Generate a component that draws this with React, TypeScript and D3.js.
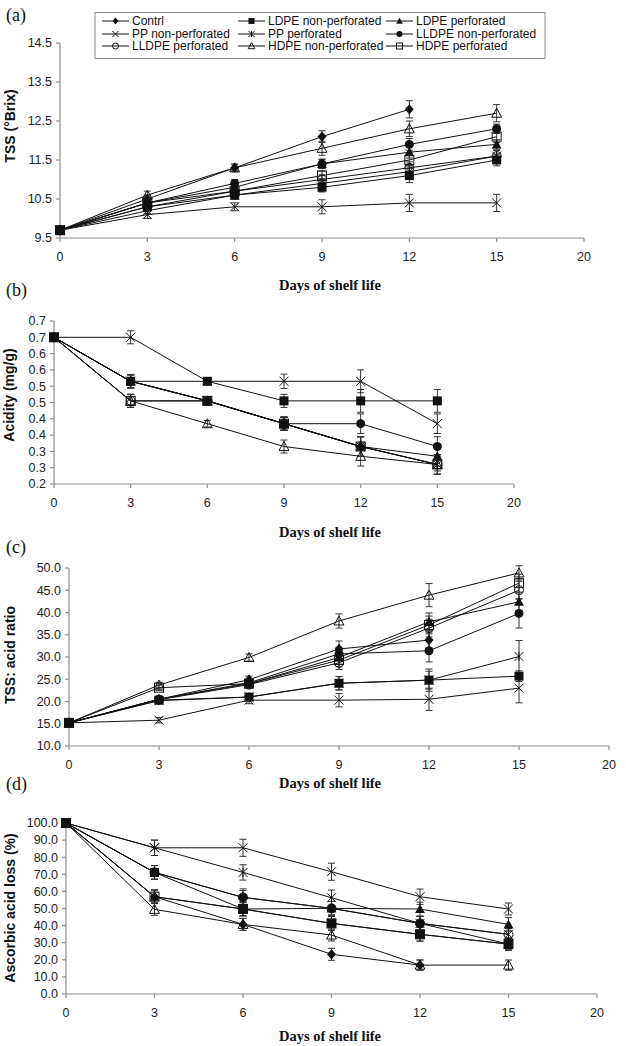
import React from "react";
import * as d3 from "d3";

type V = number | null;

const days = ["0", "3", "6", "9", "12", "15", "20"];
const seriesNames = [
  "Contrl", "LDPE non-perforated", "LDPE perforated",
  "PP non-perforated", "PP perforated", "LLDPE non-perforated",
  "LLDPE perforated", "HDPE non-perforated", "HDPE perforated",
];
const seriesMarkers = [
  "diamond", "squareFilled", "triangleFilled",
  "cross", "star", "circleFilled",
  "circleOpen", "triangleOpen", "squareOpen",
];

// (a) TSS (°Brix)
const tssValues: V[][] = [
  [9.7, 10.5, 11.3, 12.1, 12.8, null],
  [9.7, 10.3, 10.6, 10.8, 11.1, 11.5],
  [9.7, 10.4, 10.8, 11.4, 11.7, 11.9],
  [9.7, 10.1, 10.3, 10.3, 10.4, 10.4],
  [9.7, 10.2, 10.6, 10.9, 11.2, 11.6],
  [9.7, 10.4, 10.9, 11.4, 11.9, 12.3],
  [9.7, 10.3, 10.7, 11.0, 11.3, 11.6],
  [9.7, 10.6, 11.3, 11.8, 12.3, 12.7],
  [9.7, 10.4, 10.7, 11.1, 11.5, 12.1],
];
const tssErrors: number[][] = [
  [0, 0.1, 0.08, 0.15, 0.22, 0],
  [0, 0.08, 0.1, 0.12, 0.18, 0.15],
  [0, 0.08, 0.15, 0.12, 0.15, 0.12],
  [0, 0.1, 0.1, 0.18, 0.22, 0.22],
  [0, 0.08, 0.1, 0.12, 0.15, 0.15],
  [0, 0.08, 0.1, 0.12, 0.15, 0.12],
  [0, 0.08, 0.1, 0.12, 0.15, 0.15],
  [0, 0.1, 0.1, 0.18, 0.2, 0.22],
  [0, 0.08, 0.1, 0.12, 0.15, 0.15],
];
const tssTicks = [9.5, 10.5, 11.5, 12.5, 13.5, 14.5];
const tssTickLabels = ["9.5", "10.5", "11.5", "12.5", "13.5", "14.5"];

// (b) Acidity (mg/g)
const acidValues: V[][] = [
  [0.65, 0.515, 0.455, 0.385, 0.315, null],
  [0.65, 0.515, 0.515, 0.455, 0.455, 0.455],
  [0.65, 0.515, 0.455, 0.385, 0.315, 0.285],
  [0.65, 0.65, 0.515, 0.515, 0.515, 0.385],
  [0.65, 0.515, 0.455, 0.385, 0.315, 0.26],
  [0.65, 0.515, 0.455, 0.385, 0.385, 0.315],
  [0.65, 0.455, 0.455, 0.385, 0.315, 0.26],
  [0.65, 0.455, 0.385, 0.315, 0.285, 0.26],
  [0.65, 0.455, 0.455, 0.385, 0.315, 0.26],
];
const acidErrors: number[][] = [
  [0, 0.02, 0.01, 0.02, 0.03, 0],
  [0, 0.02, 0.01, 0.02, 0.035, 0.035],
  [0, 0.02, 0.01, 0.02, 0.03, 0.03],
  [0, 0.02, 0.01, 0.022, 0.035, 0.03],
  [0, 0.02, 0.01, 0.02, 0.03, 0.03],
  [0, 0.02, 0.01, 0.02, 0.03, 0.03],
  [0, 0.02, 0.01, 0.02, 0.03, 0.03],
  [0, 0.02, 0.01, 0.02, 0.03, 0.02],
  [0, 0.02, 0.01, 0.02, 0.03, 0.03],
];
const acidTicks = [0.2, 0.25, 0.3, 0.35, 0.4, 0.45, 0.5, 0.55, 0.6, 0.65, 0.7];
const acidTickLabels = ["0.2", "0.3", "0.3", "0.4", "0.4", "0.5", "0.5", "0.6", "0.6", "0.7", "0.7"];

// (c) TSS: acid ratio
const ratioValues: V[][] = [
  [15.2, 20.5, 24.9, 31.8, 33.8, null],
  [15.2, 20.3, 21.0, 24.1, 24.8, 25.7],
  [15.2, 20.5, 24.0, 29.9, 37.9, 42.4],
  [15.2, 15.8, 20.3, 20.3, 20.5, 23.0],
  [15.2, 20.2, 21.0, 24.1, 24.8, 30.1],
  [15.2, 20.5, 24.2, 30.7, 31.4, 39.8],
  [15.2, 20.4, 23.8, 28.7, 36.5, 45.0],
  [15.2, 23.7, 29.9, 38.1, 43.9, 48.9],
  [15.2, 23.1, 24.0, 29.3, 37.2, 46.6],
];
const ratioErrors: number[][] = [
  [0, 0.6, 0.8, 1.8, 1.8, 0],
  [0, 0.5, 0.6, 1.5, 2.5, 1.2],
  [0, 0.5, 0.8, 1.5, 2.0, 2.0],
  [0, 0.6, 0.8, 1.5, 2.5, 3.3],
  [0, 0.5, 0.6, 1.5, 2.0, 3.6],
  [0, 0.5, 0.8, 1.5, 2.5, 3.3],
  [0, 0.5, 0.8, 1.5, 2.0, 2.0],
  [0, 0.6, 0.8, 1.6, 2.6, 1.6],
  [0, 0.6, 0.8, 1.5, 2.0, 2.0],
];
const ratioTicks = [10, 15, 20, 25, 30, 35, 40, 45, 50];
const ratioTickLabels = ["10.0", "15.0", "20.0", "25.0", "30.0", "35.0", "40.0", "45.0", "50.0"];

// (d) Ascorbic acid loss (%)
const ascValues: V[][] = [
  [100, 56.9, 40.7, 23.2, 16.9, null],
  [100, 71.1, 49.7, 41.3, 34.9, 29.2],
  [100, 56.9, 49.7, 50.1, 49.7, 40.7],
  [100, 85.5, 85.5, 71.5, 56.9, 49.7],
  [100, 85.5, 71.1, 56.3, 41.3, 34.9],
  [100, 71.1, 56.5, 50.1, 41.3, 29.2],
  [100, 71.1, 56.5, 50.1, 41.3, 34.9],
  [100, 49.5, 40.7, 34.5, 16.9, 16.9],
  [100, 56.9, 49.7, 41.3, 34.9, 29.2],
];
const ascErrors: number[][] = [
  [0, 3.5, 3.5, 3.5, 3, 0],
  [0, 4, 4, 4, 4, 3.5],
  [0, 4, 4, 4, 4, 4],
  [0, 4.5, 5, 5, 4.5, 3.5],
  [0, 4.5, 4.5, 4.5, 4, 3.5],
  [0, 4, 5, 4, 4, 3.5],
  [0, 4, 4, 4, 4, 3.5],
  [0, 3.5, 3.5, 3.5, 3, 3],
  [0, 4, 4, 4, 4, 3.5],
];
const ascTicks = [0, 10, 20, 30, 40, 50, 60, 70, 80, 90, 100];
const ascTickLabels = ["0.0", "10.0", "20.0", "30.0", "40.0", "50.0", "60.0", "70.0", "80.0", "90.0", "100.0"];

const SANS = "'Liberation Sans', Arial, Helvetica, sans-serif";
const SERIF = "'Liberation Serif', 'Times New Roman', serif";
const AXIS = "#8c8c8c";
const INK = "#111";

function Marker({ type, x, y, s }: { type: string; x: number; y: number; s: number }) {
  const sw = 1;
  switch (type) {
    case "diamond":
      return <path d={`M${x},${y - s * 1.15}L${x + s},${y}L${x},${y + s * 1.15}L${x - s},${y}Z`} fill={INK} />;
    case "squareFilled":
      return <rect x={x - s} y={y - s} width={2 * s} height={2 * s} fill={INK} />;
    case "squareOpen":
      return <rect x={x - s} y={y - s} width={2 * s} height={2 * s} fill="none" stroke={INK} strokeWidth={sw} />;
    case "triangleFilled":
      return <path d={`M${x},${y - s * 1.1}L${x + s * 1.1},${y + s * 0.9}L${x - s * 1.1},${y + s * 0.9}Z`} fill={INK} />;
    case "triangleOpen":
      return <path d={`M${x},${y - s * 1.1}L${x + s * 1.1},${y + s * 0.9}L${x - s * 1.1},${y + s * 0.9}Z`} fill="none" stroke={INK} strokeWidth={sw} />;
    case "circleFilled":
      return <circle cx={x} cy={y} r={s} fill={INK} />;
    case "circleOpen":
      return <circle cx={x} cy={y} r={s} fill="none" stroke={INK} strokeWidth={sw} />;
    case "cross":
      return <path d={`M${x - s},${y - s}L${x + s},${y + s}M${x - s},${y + s}L${x + s},${y - s}`} stroke={INK} strokeWidth={sw} fill="none" />;
    case "star":
      return <path d={`M${x - s},${y - s}L${x + s},${y + s}M${x - s},${y + s}L${x + s},${y - s}M${x},${y - s}L${x},${y + s}`} stroke={INK} strokeWidth={sw} fill="none" />;
    default:
      return null;
  }
}

type PanelProps = {
  tag: string;
  tagY: number;
  x0: number;
  x1: number;
  yBottom: number;
  yTop: number;
  domain: [number, number];
  ticks: number[];
  tickLabels: string[];
  values: V[][];
  errors: number[][];
  yTitle: string;
  yTitleX: number;
  yTitleY: number;
  xTitleY: number;
};

function Panel(p: PanelProps) {
  const x = d3.scalePoint<string>().domain(days).range([p.x0, p.x1]);
  const y = d3.scaleLinear().domain(p.domain).range([p.yBottom, p.yTop]);
  const line = d3
    .line<{ d: string; v: V }>()
    .defined((d) => d.v !== null)
    .x((d) => x(d.d)!)
    .y((d) => y(d.v as number));

  return (
    <g>
      <text x={6} y={p.tagY} fontFamily={SERIF} fontSize={18} fill="#111">{p.tag}</text>
      {/* axes */}
      <line x1={p.x0} x2={p.x0} y1={y(p.domain[1])} y2={p.yBottom} stroke={AXIS} strokeWidth={1.2} />
      <line x1={p.x0} x2={p.x1} y1={p.yBottom} y2={p.yBottom} stroke={AXIS} strokeWidth={1.2} />
      {p.ticks.map((t, i) => (
        <g key={"yt" + i}>
          <line x1={p.x0 - 4} x2={p.x0} y1={y(t)} y2={y(t)} stroke={AXIS} strokeWidth={1.2} />
          <text x={p.x0 - 8} y={y(t)} dy="0.35em" textAnchor="end" fontFamily={SANS} fontSize={12.5} fill="#222">
            {p.tickLabels[i]}
          </text>
        </g>
      ))}
      {days.map((d) => (
        <g key={"xt" + d}>
          <line x1={x(d)!} x2={x(d)!} y1={p.yBottom} y2={p.yBottom + 4} stroke={AXIS} strokeWidth={1.2} />
          <text x={x(d)!} y={p.yBottom + 23} textAnchor="middle" fontFamily={SANS} fontSize={12.5} fill="#222">
            {d}
          </text>
        </g>
      ))}
      <text
        transform={`translate(${p.yTitleX},${p.yTitleY}) rotate(-90)`}
        textAnchor="middle"
        fontFamily={SANS}
        fontWeight="bold"
        fontSize={14}
        fill="#111"
      >
        {p.yTitle}
      </text>
      <text x={330} y={p.xTitleY} textAnchor="middle" fontFamily={SERIF} fontWeight="bold" fontSize={14.5} fill="#111">
        Days of shelf life
      </text>
      {/* lines */}
      {p.values.map((vals, si) => (
        <path
          key={"l" + si}
          d={line(vals.map((v, i) => ({ d: days[i], v })))!}
          fill="none"
          stroke={INK}
          strokeWidth={1}
        />
      ))}
      {/* error bars */}
      {p.values.map((vals, si) =>
        vals.map((v, i) => {
          const e = p.errors[si][i];
          if (v === null || !e) return null;
          const cx = x(days[i])!;
          const ya = y(v + e);
          const yb = y(v - e);
          return (
            <path
              key={`e${si}-${i}`}
              d={`M${cx},${ya}L${cx},${yb}M${cx - 3.5},${ya}L${cx + 3.5},${ya}M${cx - 3.5},${yb}L${cx + 3.5},${yb}`}
              stroke="#333"
              strokeWidth={1}
              fill="none"
            />
          );
        })
      )}
      {/* markers */}
      {p.values.map((vals, si) =>
        vals.map((v, i) =>
          v === null ? null : (
            <Marker key={`m${si}-${i}`} type={seriesMarkers[si]} x={x(days[i])!} y={y(v)} s={4.5} />
          )
        )
      )}
    </g>
  );
}

function Legend() {
  const colLine = [102, 238, 386];
  const rowY = [21, 34, 46];
  return (
    <g>
      <rect x={95} y={12.5} width={450} height={46} fill="#fff" stroke="#8c8c8c" strokeWidth={1} />
      {seriesNames.map((name, i) => {
        const lx = colLine[i % 3];
        const ly = rowY[Math.floor(i / 3)];
        return (
          <g key={name}>
            <line x1={lx} x2={lx + 27} y1={ly} y2={ly} stroke={INK} strokeWidth={1} />
            <Marker type={seriesMarkers[i]} x={lx + 13.5} y={ly} s={3} />
            <text x={lx + 30} y={ly} dy="0.35em" fontFamily={SANS} fontSize={12} fill="#111">
              {name}
            </text>
          </g>
        );
      })}
    </g>
  );
}

export default function App() {
  return (
    <svg width={626} height={1046} style={{ position: "absolute", left: 0, top: 0, background: "#fff" }}>
      <rect width={626} height={1046} fill="#fff" />
      <Panel
        tag="(a)" tagY={21}
        x0={60} x1={584} yBottom={238} yTop={43} domain={[9.5, 14.5]}
        ticks={tssTicks} tickLabels={tssTickLabels}
        values={tssValues} errors={tssErrors}
        yTitle="TSS (°Brix)" yTitleX={15} yTitleY={126} xTitleY={290}
      />
      <Panel
        tag="(b)" tagY={296}
        x0={54} x1={514} yBottom={484} yTop={321} domain={[0.2, 0.7]}
        ticks={acidTicks} tickLabels={acidTickLabels}
        values={acidValues} errors={acidErrors}
        yTitle="Acidity (mg/g)" yTitleX={14} yTitleY={395} xTitleY={537}
      />
      <Panel
        tag="(c)" tagY={553}
        x0={69} x1={609} yBottom={746} yTop={568} domain={[10, 50]}
        ticks={ratioTicks} tickLabels={ratioTickLabels}
        values={ratioValues} errors={ratioErrors}
        yTitle="TSS: acid ratio" yTitleX={15} yTitleY={655} xTitleY={788}
      />
      <Panel
        tag="(d)" tagY={790}
        x0={66} x1={597} yBottom={994} yTop={823} domain={[0, 100]}
        ticks={ascTicks} tickLabels={ascTickLabels}
        values={ascValues} errors={ascErrors}
        yTitle="Ascorbic acid loss (%)" yTitleX={15} yTitleY={908} xTitleY={1041}
      />
      <Legend />
    </svg>
  );
}
